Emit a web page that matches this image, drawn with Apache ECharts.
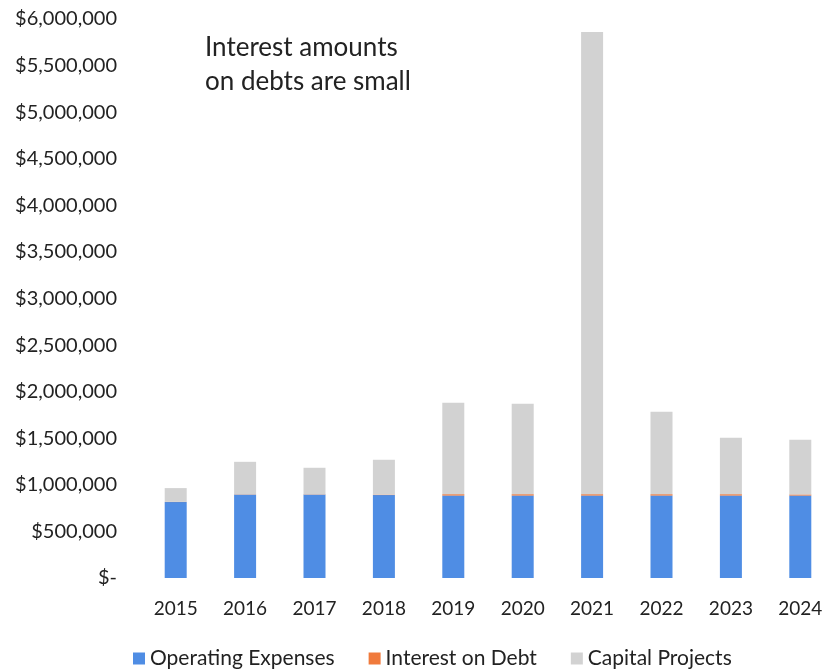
<!DOCTYPE html>
<html>
<head>
<meta charset="utf-8">
<script src="https://cdn.jsdelivr.net/npm/echarts@6/dist/echarts.min.js"></script>
<style>
  html, body { margin: 0; padding: 0; background: #fff; }
  #chart { width: 835px; height: 672px; }
</style>
</head>
<body>
<div id="chart"></div>
<script>
// Annual spending by category (USD)
const years = ['2015', '2016', '2017', '2018', '2019', '2020', '2021', '2022', '2023', '2024'];
const operatingExpenses = [815000, 895000, 895000, 890000, 885000, 885000, 885000, 885000, 885000, 885000];
const interestOnDebt = [2000, 3000, 3000, 5000, 15000, 15000, 15000, 15000, 15000, 12000];
const capitalProjects = [148000, 349000, 285000, 374000, 982000, 971000, 4960000, 885000, 605000, 587000];

const FONT = 'Lato, "Open Sans", sans-serif';

// Accounting-style currency: zero shows as a dash
function money(v) {
  if (v === 0) return '$-';
  return '$' + v.toLocaleString('en-US');
}

const chart = echarts.init(document.getElementById('chart'));
chart.setOption({
  animation: false,
  grid: { left: 141, right: -9, top: 19, height: 559, containLabel: false },
  xAxis: {
    type: 'category',
    data: years,
    axisLine: { show: false },
    axisTick: { show: false },
    axisLabel: { color: '#222', fontFamily: FONT, fontSize: 19, margin: 21 }
  },
  yAxis: {
    type: 'value',
    min: 0,
    max: 6000000,
    interval: 500000,
    splitLine: { show: false },
    axisLine: { show: false },
    axisTick: { show: false },
    axisLabel: { color: '#222', fontFamily: FONT, fontSize: 20, margin: 24, formatter: money }
  },
  legend: {
    bottom: -2,
    left: 128,
    itemWidth: 12,
    itemHeight: 12,
    itemGap: 34,
    icon: 'rect',
    textStyle: { color: '#222', fontFamily: FONT, fontSize: 21 }
  },
  series: [
    {
      name: 'Operating Expenses', type: 'bar', stack: 'total', barWidth: 22,
      itemStyle: { color: '#4f8de4' }, data: operatingExpenses
    },
    {
      name: 'Interest on Debt', type: 'bar', stack: 'total', barWidth: 22,
      itemStyle: { color: '#f07a3c' }, data: interestOnDebt
    },
    {
      name: 'Capital Projects', type: 'bar', stack: 'total', barWidth: 22,
      itemStyle: { color: '#d2d2d2' }, data: capitalProjects
    }
  ],
  graphic: [
    {
      type: 'text', left: 205, top: 31,
      style: {
        text: 'Interest amounts\non debts are small',
        fill: '#222', font: '26px ' + FONT, lineHeight: 34
      }
    }
  ]
});
</script>
</body>
</html>
